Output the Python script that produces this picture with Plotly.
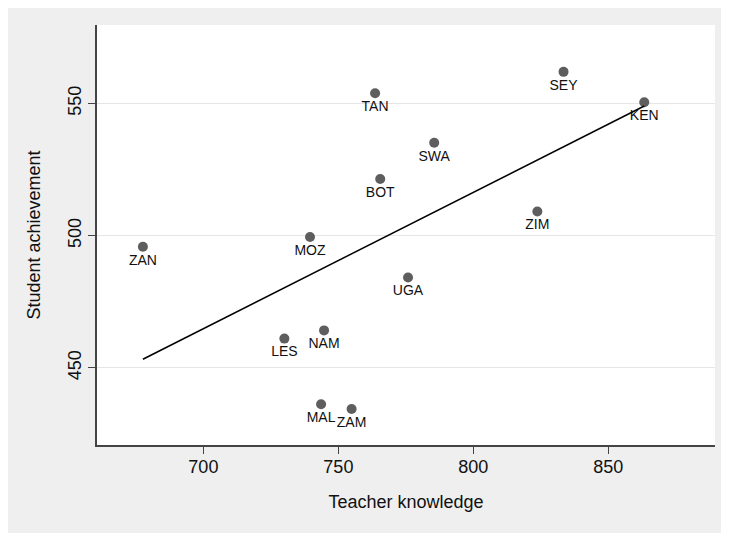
import plotly.graph_objects as go

countries = ["ZAN", "MOZ", "TAN", "SEY", "KEN", "SWA", "BOT", "ZIM", "UGA", "LES", "NAM", "MAL", "ZAM"]
teacher = [677.6, 739.5, 763.6, 833.4, 863.3, 785.5, 765.5, 823.7, 775.8, 730.0, 744.7, 743.6, 754.9]
student = [495.8, 499.5, 553.8, 561.9, 550.4, 535.1, 521.4, 509.1, 484.2, 461.1, 464.2, 436.3, 434.5]

fit_x = [677.6, 863.3]
fit_y = [453.3, 549.0]

x_ticks = [700, 750, 800, 850]
y_ticks = [450, 500, 550]

FONT = "Liberation Sans, Arial, sans-serif"
BG = "#efefef"

fig = go.Figure()
fig.add_trace(go.Scatter(
    x=teacher, y=student, mode="markers+text", text=countries,
    textposition="bottom center",
    textfont=dict(family=FONT, size=14, color="#111111"),
    marker=dict(size=10, color="#5e5e5e"),
    showlegend=False, hoverinfo="skip"))
fig.add_trace(go.Scatter(
    x=fit_x, y=fit_y, mode="lines",
    line=dict(color="#000000", width=1.5),
    showlegend=False, hoverinfo="skip"))

fig.update_layout(
    width=740, height=545,
    margin=dict(l=89, r=33, t=17, b=108),
    paper_bgcolor=BG, plot_bgcolor="white",
    font=dict(family=FONT, size=18, color="#111111"),
    xaxis=dict(
        range=[660.6, 889.5], tickvals=x_ticks, showgrid=False, zeroline=False,
        showline=True, linecolor="#444444", linewidth=1.5,
        ticks="outside", ticklen=7, tickcolor="#444444", tickwidth=1.2,
        tickfont=dict(size=18), ticklabelstandoff=-2,
        title=dict(text="Teacher knowledge", font=dict(size=18), standoff=19)),
    yaxis=dict(
        range=[420.9, 579.6], tickvals=y_ticks, showgrid=True, gridcolor="#e6e6e6",
        gridwidth=1.2, zeroline=False,
        showline=True, linecolor="#444444", linewidth=1.5,
        ticks="outside", ticklen=7, tickcolor="#444444", tickwidth=1.2,
        tickangle=-90, tickfont=dict(size=18),
        title=dict(text="Student achievement", font=dict(size=18), standoff=20)),
)

fig.write_html("out.html", config={"displayModeBar": False},
               post_script="document.body.style.overflow='hidden';")
